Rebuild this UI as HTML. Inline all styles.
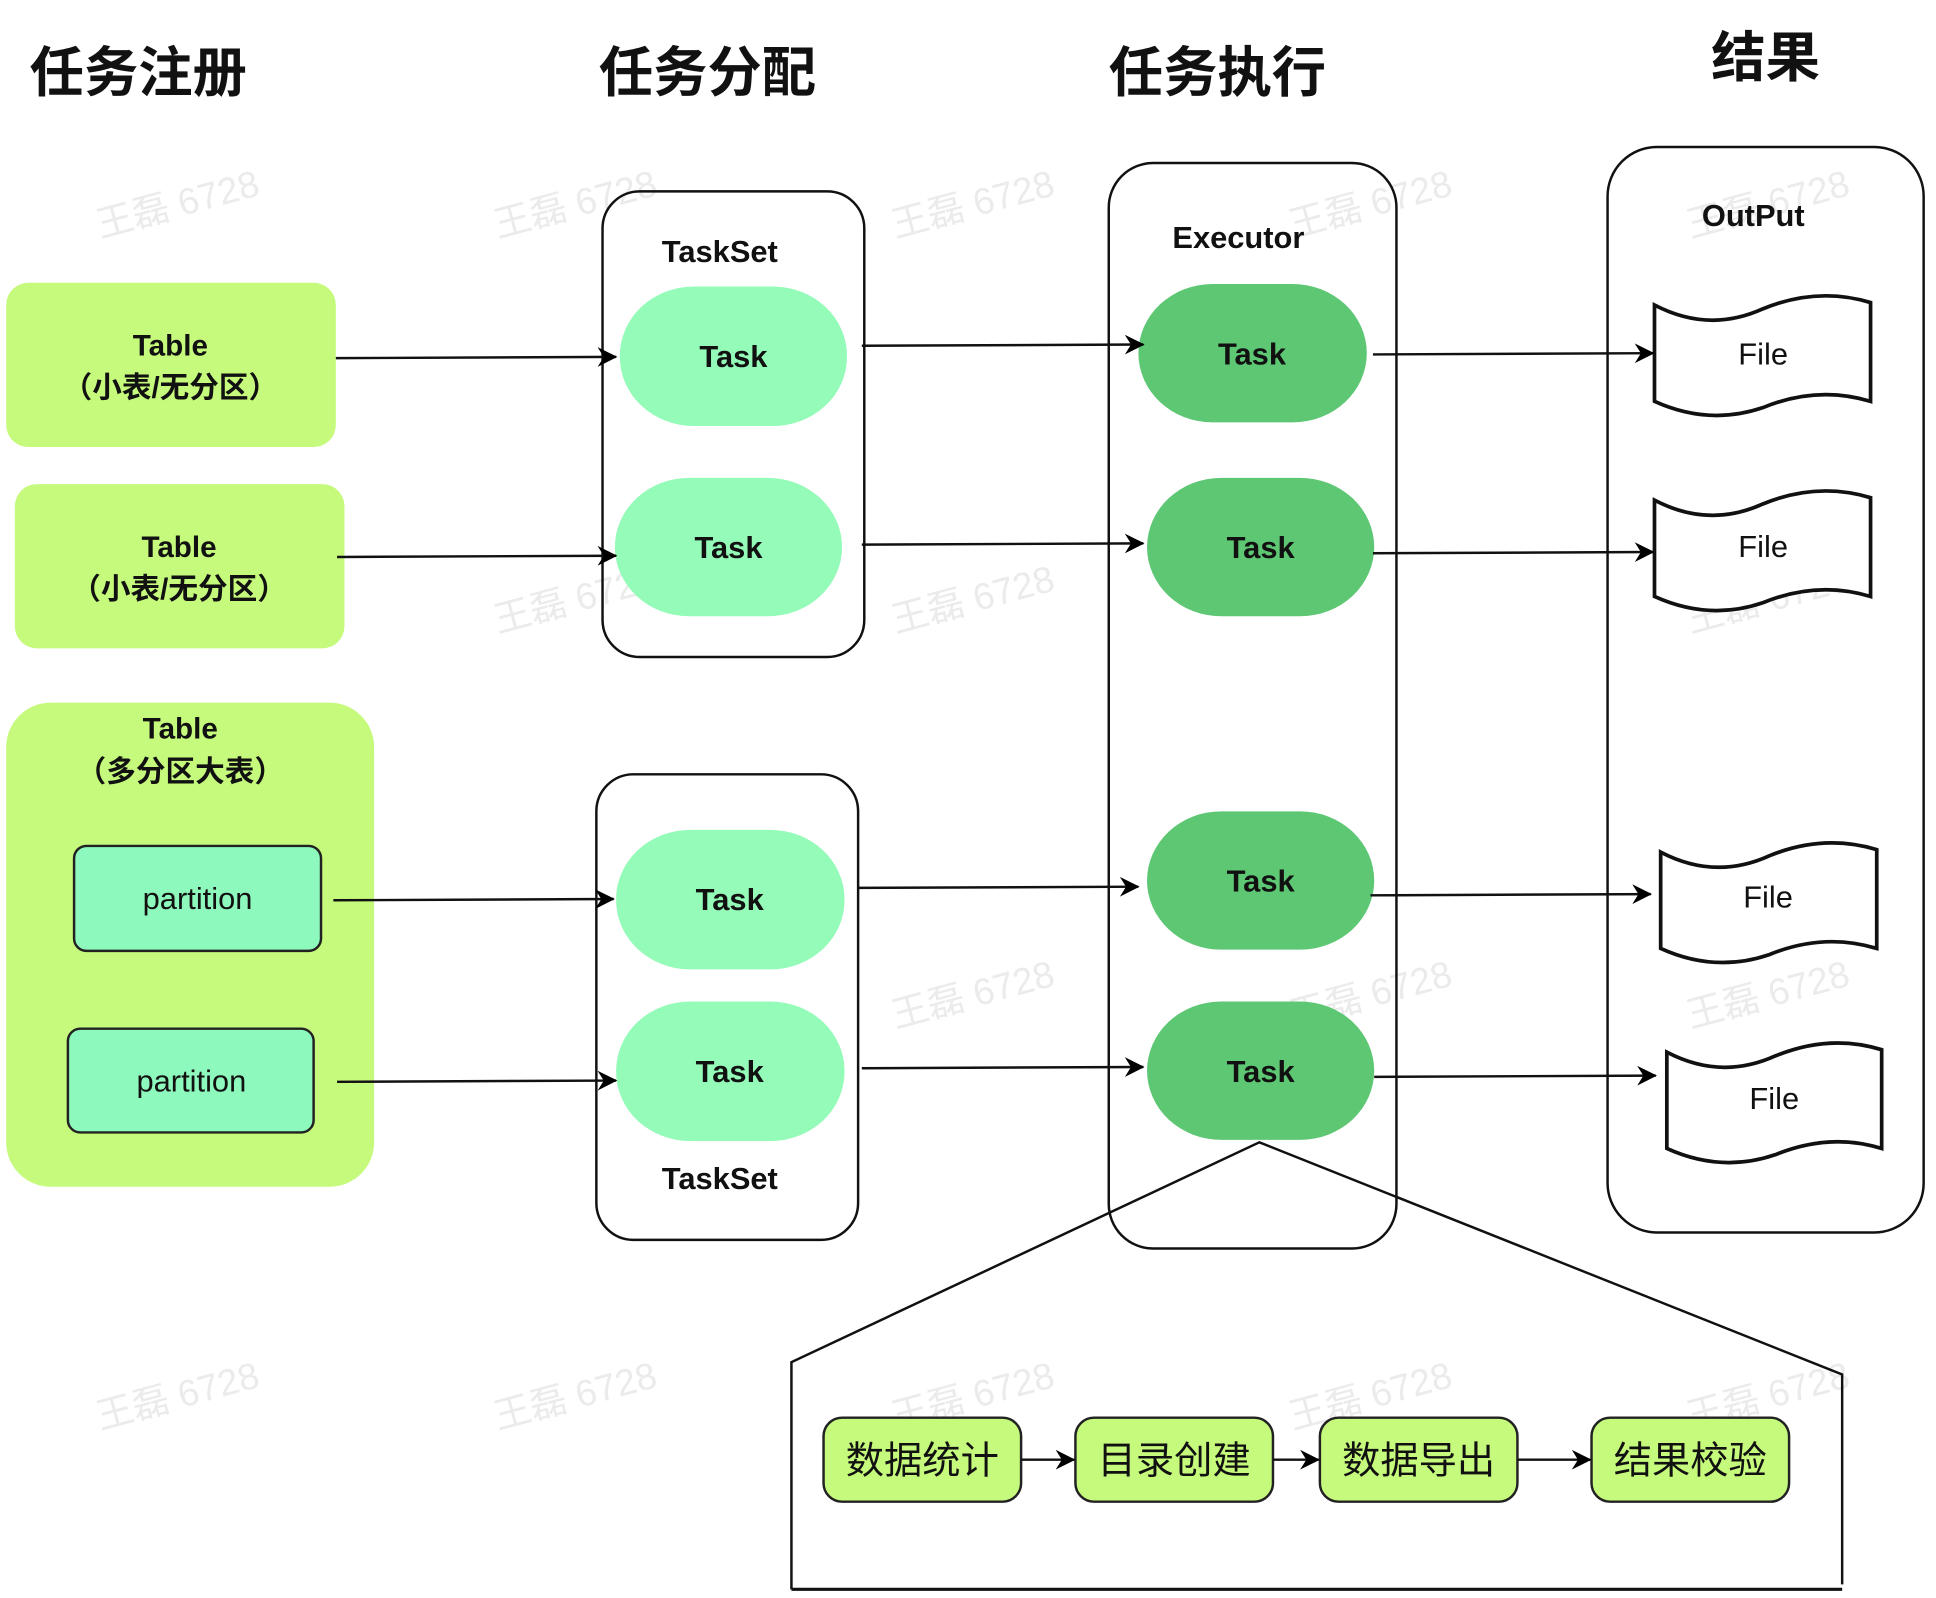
<!DOCTYPE html>
<html><head><meta charset="utf-8"><style>
html,body{margin:0;padding:0;background:#fff;}
svg{display:block;}
text{font-family:"Liberation Sans","Noto Sans CJK SC",sans-serif;}
</style></head><body>
<svg width="1936" height="1598" viewBox="0 0 1568 1294" preserveAspectRatio="none" xmlns="http://www.w3.org/2000/svg">
<defs>
<marker id="a" markerWidth="10" markerHeight="10" refX="9" refY="5" orient="auto" markerUnits="userSpaceOnUse" viewBox="0 0 10 10">
<path d="M0,0 L10,5 L0,10 L3,5 z" fill="#000"/></marker>
<marker id="b" markerWidth="16" markerHeight="16" refX="15" refY="8" orient="auto" markerUnits="userSpaceOnUse" viewBox="0 0 16 16">
<path d="M0,0 L16,8 L0,16 L5,8 z" fill="#000"/></marker>
</defs>
<g fill="#ebebeb" font-size="30">
<g transform="rotate(-15 145 160)"><text x="75" y="175">王磊 6728</text></g>
<g transform="rotate(-15 467 160)"><text x="397" y="175">王磊 6728</text></g>
<g transform="rotate(-15 789 160)"><text x="719" y="175">王磊 6728</text></g>
<g transform="rotate(-15 1111 160)"><text x="1041" y="175">王磊 6728</text></g>
<g transform="rotate(-15 1433 160)"><text x="1363" y="175">王磊 6728</text></g>
<g transform="rotate(-15 467 480)"><text x="397" y="495">王磊 6728</text></g>
<g transform="rotate(-15 789 480)"><text x="719" y="495">王磊 6728</text></g>
<g transform="rotate(-15 1433 480)"><text x="1363" y="495">王磊 6728</text></g>
<g transform="rotate(-15 789 800)"><text x="719" y="815">王磊 6728</text></g>
<g transform="rotate(-15 1111 800)"><text x="1041" y="815">王磊 6728</text></g>
<g transform="rotate(-15 1433 800)"><text x="1363" y="815">王磊 6728</text></g>
<g transform="rotate(-15 145 1125)"><text x="75" y="1140">王磊 6728</text></g>
<g transform="rotate(-15 467 1125)"><text x="397" y="1140">王磊 6728</text></g>
<g transform="rotate(-15 789 1125)"><text x="719" y="1140">王磊 6728</text></g>
<g transform="rotate(-15 1111 1125)"><text x="1041" y="1140">王磊 6728</text></g>
<g transform="rotate(-15 1433 1125)"><text x="1363" y="1140">王磊 6728</text></g>
</g>
<g font-size="44" font-weight="bold" fill="#111">
<text x="24" y="74">任务注册</text>
<text x="485" y="74">任务分配</text>
<text x="898" y="74">任务执行</text>
<text x="1386" y="62">结果</text>
</g>
<!-- left -->
<rect x="5" y="229" width="267" height="133" rx="18" fill="#c6fa7c"/>
<rect x="12" y="392" width="267" height="133" rx="18" fill="#c6fa7c"/>
<rect x="5" y="569" width="298" height="392" rx="36" fill="#c6fa7c"/>
<g font-size="24" font-weight="bold" text-anchor="middle" fill="#111">
<text x="138" y="288">Table</text><text x="138" y="322">（小表/无分区）</text>
<text x="145" y="451">Table</text><text x="145" y="485">（小表/无分区）</text>
<text x="146" y="598">Table</text><text x="146" y="633">（多分区大表）</text>
</g>
<rect x="60" y="685" width="200" height="85" rx="10" fill="#8ef9bd" stroke="#222" stroke-width="2"/>
<rect x="55" y="833" width="199" height="84" rx="10" fill="#8ef9bd" stroke="#222" stroke-width="2"/>
<g font-size="25" text-anchor="middle" fill="#111"><text x="160" y="736">partition</text><text x="155" y="884">partition</text></g>
<!-- tasksets -->
<rect x="488" y="155" width="212" height="377" rx="30" fill="none" stroke="#111" stroke-width="2"/>
<rect x="483" y="627" width="212" height="377" rx="30" fill="none" stroke="#111" stroke-width="2"/>
<g fill="#94fbb8">
<rect x="502" y="232" width="184" height="113" rx="60" ry="56"/>
<rect x="498" y="387" width="184" height="112" rx="60" ry="56"/>
<rect x="499" y="672" width="185" height="113" rx="60" ry="56"/>
<rect x="499" y="811" width="185" height="113" rx="60" ry="56"/>
</g>
<!-- executor -->
<rect x="898" y="132" width="233" height="879" rx="36" fill="none" stroke="#111" stroke-width="2"/>
<g fill="#5ec774">
<rect x="922" y="230" width="185" height="112" rx="60" ry="56"/>
<rect x="929" y="387" width="184" height="112" rx="60" ry="56"/>
<rect x="929" y="657" width="184" height="112" rx="60" ry="56"/>
<rect x="929" y="811" width="184" height="112" rx="60" ry="56"/>
</g>
<!-- output -->
<rect x="1302" y="119" width="256" height="879" rx="40" fill="none" stroke="#111" stroke-width="2"/>
<g fill="#fff" stroke="#111" stroke-width="3">
<path d="M1340,247 Q1384,270 1428,250 Q1472,232 1515,245 L1515,325 Q1472,312 1428,330 Q1384,345 1340,325 Z"/>
<path d="M1340,405 Q1384,428 1428,408 Q1472,390 1515,403 L1515,483 Q1472,470 1428,488 Q1384,503 1340,483 Z"/>
<path d="M1345,690 Q1389,713 1433,693 Q1477,675 1520,688 L1520,768 Q1477,755 1433,773 Q1389,788 1345,768 Z"/>
<path d="M1350,852 Q1394,875 1438,855 Q1482,837 1524,850 L1524,930 Q1482,917 1438,935 Q1394,950 1350,930 Z"/>
</g>
<g font-size="25" text-anchor="middle" fill="#111">
<text x="1428" y="295">File</text><text x="1428" y="451">File</text>
<text x="1432" y="735">File</text><text x="1437" y="898">File</text>
</g>
<g font-size="25" font-weight="bold" text-anchor="middle" fill="#111">
<text x="583" y="212">TaskSet</text><text x="583" y="963">TaskSet</text>
<text x="1003" y="201">Executor</text><text x="1420" y="183">OutPut</text>
<text x="594" y="297">Task</text><text x="590" y="452">Task</text>
<text x="591" y="737">Task</text><text x="591" y="876">Task</text>
<text x="1014" y="295">Task</text><text x="1021" y="452">Task</text>
<text x="1021" y="722">Task</text><text x="1021" y="876">Task</text>
</g>
<!-- arrows -->
<g stroke="#111" stroke-width="2" marker-end="url(#b)">
<line x1="272" y1="290" x2="499" y2="289"/>
<line x1="273" y1="451" x2="499" y2="450"/>
<line x1="270" y1="729" x2="497" y2="728"/>
<line x1="273" y1="876" x2="499" y2="875"/>
<line x1="698" y1="280" x2="926" y2="279"/>
<line x1="698" y1="441" x2="926" y2="440"/>
<line x1="695" y1="719" x2="922" y2="718"/>
<line x1="698" y1="865" x2="926" y2="864"/>
<line x1="1112" y1="287" x2="1339" y2="286"/>
<line x1="1112" y1="448" x2="1339" y2="447"/>
<line x1="1110" y1="725" x2="1337" y2="724"/>
<line x1="1113" y1="872" x2="1341" y2="871"/>
</g>
<!-- zoom callout -->
<path d="M641,1287 L641,1103 L1020,925 L1492,1113 L1492,1283" fill="none" stroke="#111" stroke-width="2"/>
<line x1="641" y1="1287" x2="1492" y2="1287" stroke="#111" stroke-width="2.5"/>
<g fill="#c6fa7c" stroke="#222" stroke-width="2">
<rect x="667" y="1148" width="160" height="68" rx="15"/>
<rect x="871" y="1148" width="160" height="68" rx="15"/>
<rect x="1069" y="1148" width="160" height="68" rx="15"/>
<rect x="1289" y="1148" width="160" height="68" rx="15"/>
</g>
<g stroke="#111" stroke-width="2" marker-end="url(#b)">
<line x1="827" y1="1182" x2="870" y2="1182"/>
<line x1="1031" y1="1182" x2="1068" y2="1182"/>
<line x1="1229" y1="1182" x2="1288" y2="1182"/>
</g>
<g font-size="31" text-anchor="middle" fill="#111">
<text x="747" y="1193">数据统计</text><text x="951" y="1193">目录创建</text>
<text x="1149" y="1193">数据导出</text><text x="1369" y="1193">结果校验</text>
</g>
</svg>
</body></html>
